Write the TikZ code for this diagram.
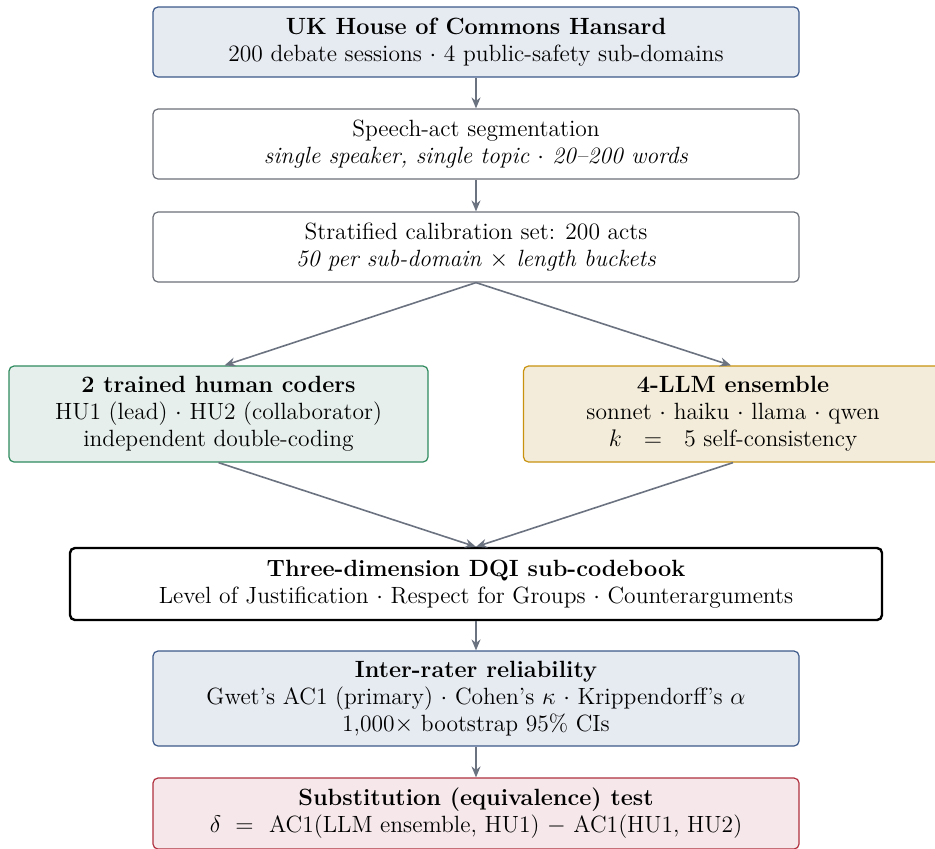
\documentclass[tikz,border=0pt]{standalone}
\usetikzlibrary{arrows.meta}
\definecolor{bluefill}{HTML}{E6EAF1}
\definecolor{blueline}{HTML}{3D5A8A}
\definecolor{greenfill}{HTML}{E6EFEB}
\definecolor{greenline}{HTML}{2F8A5E}
\definecolor{yellowfill}{HTML}{F4ECDA}
\definecolor{yellowline}{HTML}{C8920E}
\definecolor{redfill}{HTML}{F6E8EA}
\definecolor{redline}{HTML}{B0303F}
\definecolor{arrowgray}{HTML}{6B7280}
\definecolor{plainline}{HTML}{6B6F78}
\begin{document}
\begin{tikzpicture}[x=0.5pt,y=-0.5pt,
  box/.style={draw, rounded corners=2.5pt, align=center, inner sep=0pt, line width=0.6pt},
  wide/.style={minimum width=323pt},
  arr/.style={-{Stealth[length=5.5pt,width=4.5pt]}, draw=arrowgray, line width=0.8pt},
  every node/.style={font=\fontsize{11.75}{13.6}\selectfont}
]
\useasboundingbox (0,0) rectangle (935,848);
\node[box, wide, minimum height=35pt, fill=bluefill, draw=blueline] (src) at (476,42)
  {\textbf{UK House of Commons Hansard}\\200 debate sessions $\cdot$ 4 public-safety sub-domains};
\node[box, wide, minimum height=35pt, fill=white, draw=plainline] (seg) at (476,144)
  {Speech-act segmentation\\\textit{single speaker, single topic $\cdot$ 20--200 words}};
\node[box, wide, minimum height=35pt, fill=white, draw=plainline] (cal) at (476,247)
  {Stratified calibration set: 200 acts\\\textit{50 per sub-domain $\times$ length buckets}};
\node[box, minimum width=209.5pt, minimum height=48pt, fill=greenfill, draw=greenline] (hum) at (218.5,414)
  {\textbf{2 trained human coders}\\HU1 (lead) $\cdot$ HU2 (collaborator)\\independent double-coding};
\node[box, minimum width=209.5pt, minimum height=48pt, fill=yellowfill, draw=yellowline] (llm) at (733,414)
  {\textbf{4-LLM ensemble}\\sonnet $\cdot$ haiku $\cdot$ llama $\cdot$ qwen\\$k\ \ =\ \ 5$ self-consistency};
\node[box, minimum width=406pt, minimum height=36pt, fill=white, draw=black, line width=1.2pt] (dqi) at (476,584)
  {\textbf{Three-dimension DQI sub-codebook}\\Level of Justification $\cdot$ Respect for Groups $\cdot$ Counterarguments};
\node[box, wide, minimum height=47.5pt, fill=bluefill, draw=blueline] (irr) at (476,698.5)
  {\textbf{Inter-rater reliability}\\Gwet's AC1 (primary) $\cdot$ Cohen's $\kappa$ $\cdot$ Krippendorff's $\alpha$\\1,000$\times$ bootstrap 95\% CIs};
\node[box, wide, minimum height=35.5pt, fill=redfill, draw=redline] (sub) at (476,813.5)
  {\textbf{Substitution (equivalence) test}\\$\delta\ =\ $ AC1(LLM ensemble, HU1) $-$ AC1(HU1, HU2)};
\draw[arr] (src.south) -- (seg.north);
\draw[arr] (seg.south) -- (cal.north);
\draw[arr] (cal.south) -- ([xshift=3pt]hum.north);
\draw[arr] (cal.south) -- ([xshift=-1pt]llm.north);
\draw[arr] (hum.south) -- (dqi.north);
\draw[arr] (llm.south) -- (dqi.north);
\draw[arr] (dqi.south) -- (irr.north);
\draw[arr] (irr.south) -- (sub.north);
\end{tikzpicture}
\end{document}
